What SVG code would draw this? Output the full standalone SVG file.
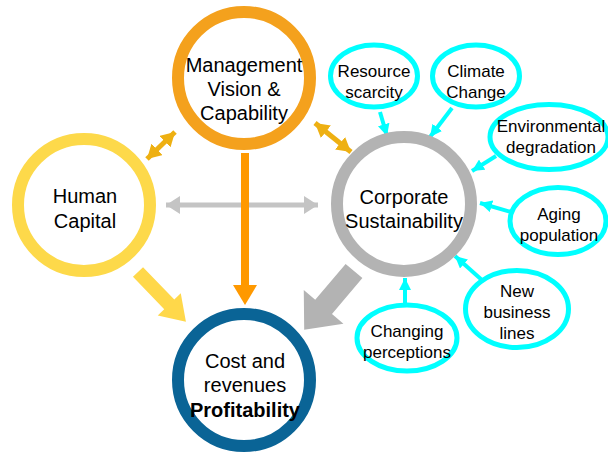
<svg xmlns="http://www.w3.org/2000/svg" width="608" height="454" viewBox="0 0 608 454">
<defs>
<style>
.big{font-family:"Liberation Sans",Arial,sans-serif;font-size:20px;fill:#000;text-anchor:middle}
.sm{font-family:"Liberation Sans",Arial,sans-serif;font-size:17px;fill:#000;text-anchor:middle}
.ring{fill:#fff;stroke-width:12}
.ell{fill:#fff;stroke:#00FFFF;stroke-width:5}
.cy{stroke:#00FFFF;stroke-width:4;fill:none;marker-end:url(#cyh)}
.gold{stroke:#EEB012;stroke-width:5;fill:none;marker-start:url(#gdh);marker-end:url(#gdh)}
</style>
<marker id="cyh" markerUnits="userSpaceOnUse" viewBox="0 0 12 12" refX="12" refY="6" markerWidth="12" markerHeight="12" orient="auto"><path d="M0,0L12,6L0,12z" fill="#00FFFF"/></marker>
<marker id="gdh" markerUnits="userSpaceOnUse" viewBox="0 0 14 16" refX="14" refY="8" markerWidth="14" markerHeight="16" orient="auto-start-reverse"><path d="M0,0L14,8L0,16z" fill="#EEB012"/></marker>
<marker id="gyh" markerUnits="userSpaceOnUse" viewBox="0 0 14 18" refX="14" refY="9" markerWidth="14" markerHeight="18" orient="auto-start-reverse"><path d="M0,0L14,9L0,18z" fill="#C4C4C4"/></marker>
</defs>

<g id="connectors">
<line x1="166" y1="205" x2="318" y2="205" stroke="#C4C4C4" stroke-width="5" marker-start="url(#gyh)" marker-end="url(#gyh)"/>
<line x1="245" y1="153" x2="245" y2="287" stroke="#FF9900" stroke-width="8"/>
<polygon points="233,285 257,285 245,305" fill="#FF9900"/>
<line class="gold" x1="147" y1="159" x2="175" y2="132"/>
<line class="gold" x1="315" y1="123" x2="351" y2="152"/>
<polygon transform="translate(138,272) rotate(46)" points="0,-7 45,-7 45,-16 69,0 45,16 45,7 0,7" fill="#FFD84A"/>
<polygon transform="translate(354,271) rotate(130.3)" points="0,-11 47,-11 47,-26 77,0 47,26 47,11 0,11" fill="#B3B3B3"/>
<line class="cy" x1="380" y1="112" x2="387" y2="136"/>
<line class="cy" x1="452" y1="108" x2="430" y2="137"/>
<line class="cy" x1="496" y1="156" x2="472" y2="171"/>
<line class="cy" x1="511" y1="212" x2="480" y2="203"/>
<line class="cy" x1="483" y1="281" x2="455" y2="256"/>
<line class="cy" x1="405" y1="303" x2="405" y2="278"/>
</g>

<g id="management">
<circle class="ring" cx="244" cy="78" r="66" stroke="#F4A11D"/>
<text class="big" x="244" y="72">Management</text>
<text class="big" x="244" y="96">Vision &amp;</text>
<text class="big" x="244" y="120">Capability</text>
</g>

<g id="human-capital">
<circle class="ring" cx="84" cy="205" r="66" stroke="#FDD94A"/>
<text class="big" x="85" y="203">Human</text>
<text class="big" x="85" y="228">Capital</text>
</g>

<g id="corporate-sustainability">
<circle class="ring" cx="404" cy="204" r="67" stroke="#B3B3B3"/>
<text class="big" x="404" y="204">Corporate</text>
<text class="big" x="404" y="228">Sustainability</text>
</g>

<g id="profitability">
<circle class="ring" cx="244" cy="380" r="66" stroke="#0A6496"/>
<text class="big" x="245" y="368">Cost and</text>
<text class="big" x="245" y="392">revenues</text>
<text class="big" x="245" y="417" font-weight="bold">Profitability</text>
</g>

<g id="resource-scarcity">
<ellipse class="ell" cx="374" cy="76" rx="43.5" ry="31"/>
<text class="sm" x="374" y="77">Resource</text>
<text class="sm" x="374" y="98">scarcity</text>
</g>

<g id="climate-change">
<ellipse class="ell" cx="476" cy="76" rx="43.5" ry="31"/>
<text class="sm" x="476" y="77">Climate</text>
<text class="sm" x="476" y="98">Change</text>
</g>

<g id="environmental-degradation">
<ellipse class="ell" cx="549" cy="137" rx="59" ry="32.5"/>
<text class="sm" x="551" y="132">Environmental</text>
<text class="sm" x="551" y="153">degradation</text>
</g>

<g id="aging-population">
<ellipse class="ell" cx="558" cy="221" rx="48" ry="33.5"/>
<text class="sm" x="559" y="220">Aging</text>
<text class="sm" x="559" y="241">population</text>
</g>

<g id="new-business-lines">
<ellipse class="ell" cx="517" cy="309" rx="51.5" ry="38.5"/>
<text class="sm" x="517" y="297">New</text>
<text class="sm" x="517" y="318">business</text>
<text class="sm" x="517" y="339">lines</text>
</g>

<g id="changing-perceptions">
<ellipse class="ell" cx="407" cy="338" rx="50" ry="33"/>
<text class="sm" x="407" y="337">Changing</text>
<text class="sm" x="407" y="358">perceptions</text>
</g>
</svg>
